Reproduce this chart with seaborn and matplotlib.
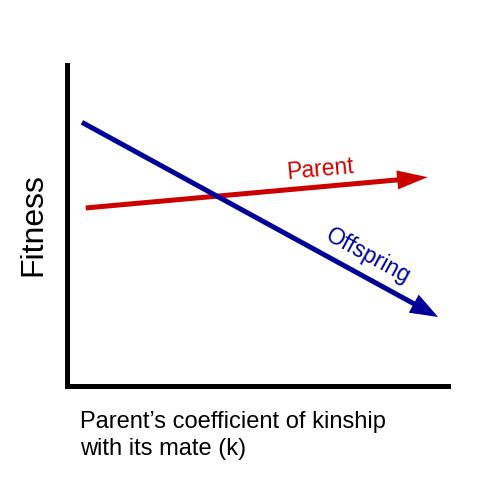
import matplotlib
matplotlib.use("Agg")
import matplotlib.pyplot as plt
import seaborn as sns
import pandas as pd
from matplotlib.patches import ArrowStyle

sns.set_style("white")
plt.rcParams['font.family'] = ['Liberation Sans', 'DejaVu Sans']

# Schematic data (axes in 0..1 units)
parent_x = [0.05, 0.937]
parent_y = [0.555, 0.651]
offspring_x = [0.040, 0.964]
offspring_y = [0.822, 0.215]
series_labels = ["Parent", "Offspring"]

RED = "#cc0000"
BLUE = "#000099"

fig = plt.figure(figsize=(5.0, 4.98), dpi=100)
ax = fig.add_axes([0.133, 0.225, 0.771, 0.644])
ax.set_xlim(0, 1)
ax.set_ylim(0, 1)

def draw_arrow(xs, ys, color, hw, ms):
    frac = 0.94
    xb = xs[0] + (xs[1] - xs[0]) * frac
    yb = ys[0] + (ys[1] - ys[0]) * frac
    df = pd.DataFrame({"x": [xs[0], xb], "y": [ys[0], yb]})
    sns.lineplot(data=df, x="x", y="y", ax=ax, color=color, linewidth=3.6,
                 solid_capstyle="butt", sort=False)
    ax.annotate("", xy=(xs[1], ys[1]), xytext=(xs[0], ys[0]),
                arrowprops=dict(arrowstyle=ArrowStyle("-|>", head_length=1.0, head_width=hw),
                                mutation_scale=ms, color=color, lw=0,
                                shrinkA=0, shrinkB=0))

draw_arrow(parent_x, parent_y, RED, 0.31, 22)
draw_arrow(offspring_x, offspring_y, BLUE, 0.37, 20)

ax.text(0.658, 0.676, series_labels[0], color=RED, fontsize=16.5,
        rotation=5.2, ha="center", va="center", rotation_mode="anchor")
ax.text(0.782, 0.405, series_labels[1], color=BLUE, fontsize=16.5,
        rotation=-28.6, ha="center", va="center", rotation_mode="anchor")

for s in ["top", "right"]:
    ax.spines[s].set_visible(False)
for s in ["left", "bottom"]:
    ax.spines[s].set_linewidth(3.6)
    ax.spines[s].set_color("black")
ax.spines["bottom"].set_bounds(0, 0.99)
ax.set_xticks([])
ax.set_yticks([])
ax.set_xlabel("")
ax.set_ylabel("")

fig.text(33 / 500, 1 - 225 / 498, "Fitness", rotation=90, fontsize=23,
         ha="center", va="center", color="black")
fig.text(80 / 500, 1 - 411 / 498, "Parent\u2019s coefficient of kinship\nwith its mate (k)",
         fontsize=17, ha="left", va="top", multialignment="left", linespacing=1.3,
         color="black")

fig.savefig("out.png", dpi=100)
